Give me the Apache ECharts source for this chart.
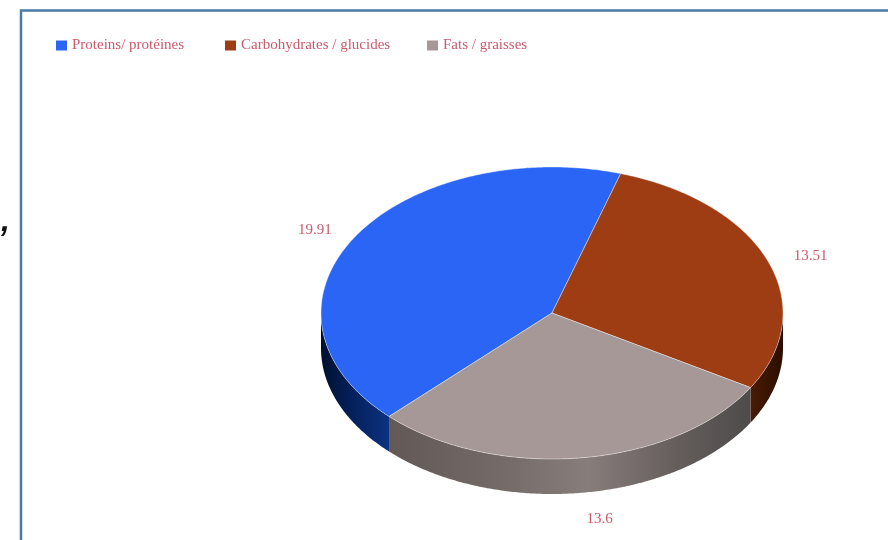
<!DOCTYPE html>
<html>
<head>
<meta charset="utf-8">
<style>
  html, body { margin: 0; padding: 0; background: #fff; }
  #chart { width: 888px; height: 540px; }
</style>
<script src="https://cdn.jsdelivr.net/npm/echarts@6/dist/echarts.min.js"></script>
</head>
<body>
<div id="chart"></div>
<script>
// Macronutrient shares
const names = ['Proteins/ protéines', 'Carbohydrates / glucides', 'Fats / graisses'];
const values = [19.91, 13.51, 13.6];

// Slice colours: top face and side-wall gradient stops
const topColors = ['#2a65f6', '#9e3d14', '#a69896'];
const wallStops = [
  [[0, '#00102e'], [0.45, '#04205c'], [1, '#0c3280']],
  [[0, '#4a1b02'], [1, '#2a0e00']],
  [[0, '#625856'], [0.3, '#736967'], [0.55, '#877d7b'], [0.8, '#655d5c'], [1, '#4d4b4b']]
];

// Drawing geometry of the tilted disc
const cx = 552, cy = 313, rx = 231, ry = 146, depth = 35;
const firstSliceEnd = 17.3;      // clockwise from 12 o'clock, where proteins end
const labelRx = 277, labelRy = 160;
const labelNudge = [[0, 0], [0, 0], [13, 12]];
const textColor = '#cb5a6c';
const total = values.reduce((a, b) => a + b, 0);

// Slices run clockwise: carbohydrates, fats, then proteins wrapping over the top
const drawOrder = [1, 2, 0];
function sliceStart(idx) {
  let a = firstSliceEnd;
  for (const i of drawOrder) {
    if (i === idx) return a;
    a += values[i] / total * 360;
  }
  return a;
}
const pt = (deg, dy) => {
  const r = deg * Math.PI / 180;
  return [cx + rx * Math.sin(r), cy - ry * Math.cos(r) + (dy || 0)];
};

function renderSlice(idx) {
  return function (params, api) {
    const sweep = api.value(0) / total * 360;
    const a0 = sliceStart(idx), a1 = a0 + sweep;
    const children = [];

    // Side wall: only the part of the rim facing the viewer (90..270 degrees)
    for (const shift of [0, 360]) {
      const w0 = Math.max(a0, 90 + shift), w1 = Math.min(a1, 270 + shift);
      if (w1 <= w0) continue;
      const upper = [], lower = [];
      for (let t = w0; t < w1; t += 0.5) { upper.push(pt(t)); lower.push(pt(t, depth)); }
      upper.push(pt(w1)); lower.push(pt(w1, depth));
      const xs = upper.map(p => p[0]);
      const minX = Math.min(...xs), maxX = Math.max(...xs);
      children.push({
        type: 'polygon',
        shape: { points: upper.concat(lower.reverse()) },
        style: {
          fill: {
            type: 'linear', x: minX, y: 0, x2: maxX, y2: 0, global: true,
            colorStops: wallStops[idx].map(s => ({ offset: s[0], color: s[1] }))
          }
        }
      });
    }

    // Top face
    const face = [[cx, cy]];
    for (let t = a0; t < a1; t += 0.5) face.push(pt(t));
    face.push(pt(a1));
    children.push({
      type: 'polygon',
      shape: { points: face },
      style: { fill: topColors[idx], stroke: 'rgba(255,255,255,0.4)', lineWidth: 1 }
    });

    // Value label outside the rim at the slice's mid-angle
    const mid = (a0 + a1) / 2 * Math.PI / 180;
    const lowerHalf = Math.cos(mid) < 0;
    children.push({
      type: 'text',
      z2: 10,
      style: {
        x: cx + labelRx * Math.sin(mid) + labelNudge[idx][0],
        y: cy - labelRy * Math.cos(mid) + (lowerHalf ? depth : 0) + labelNudge[idx][1],
        text: String(api.value(0)),
        fill: textColor,
        font: '15px "Liberation Serif"',
        align: 'center',
        verticalAlign: 'middle'
      }
    });
    return { type: 'group', children };
  };
}

const legendLefts = [51, 220, 422];
const chart = echarts.init(document.getElementById('chart'), null, { renderer: 'canvas' });
chart.setOption({
  animation: false,
  backgroundColor: '#ffffff',
  legend: names.map((n, i) => ({
    data: [n],
    left: legendLefts[i],
    top: 33,
    icon: 'rect',
    itemWidth: 11,
    itemHeight: 10,
    itemGap: 0,
    selectedMode: false,
    textStyle: { color: textColor, fontFamily: 'Liberation Serif', fontSize: 15 }
  })),
  graphic: [
    {
      type: 'rect',
      shape: { x: 21, y: 10.5, width: 900, height: 600 },
      style: { fill: 'none', stroke: '#4a7ba8', lineWidth: 2.5 },
      silent: true
    },
    {
      type: 'text',
      left: 1,
      top: 206,
      style: { text: ',', fill: '#111', font: 'italic bold 32px "Liberation Sans"' },
      silent: true
    }
  ],
  series: names.map((n, i) => ({
    type: 'custom',
    name: n,
    coordinateSystem: 'none',
    clip: false,
    silent: true,
    itemStyle: { color: topColors[i] },
    data: [[values[i]]],
    renderItem: renderSlice(i)
  }))
});
</script>
</body>
</html>
